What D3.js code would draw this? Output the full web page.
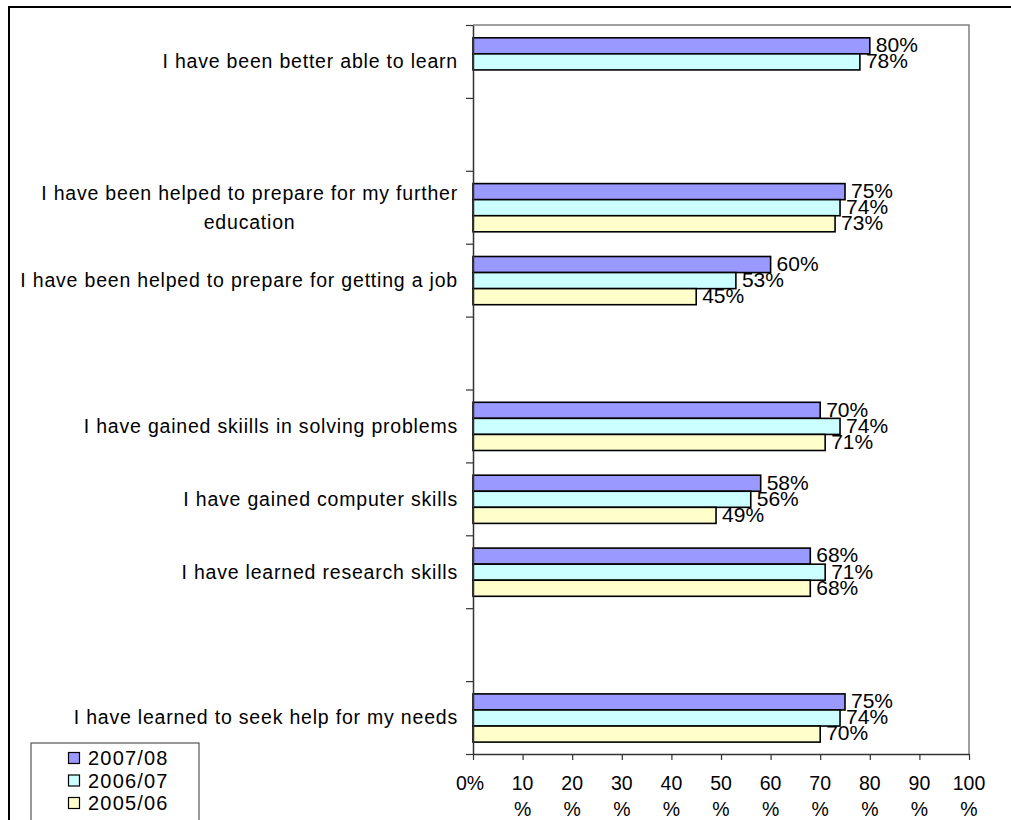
<!DOCTYPE html>
<html><head><meta charset="utf-8">
<script src="https://cdn.jsdelivr.net/npm/d3@7"></script>
<style>body{margin:0;background:#fff}svg{display:block}text{font-family:"Liberation Sans",Arial,sans-serif;fill:#000}</style>
</head><body><div id="chart"></div>
<script>
const categories = [
  ["I have been better able to learn"],
  [],
  ["I have been helped to prepare for my further", "education"],
  ["I have been helped to prepare for getting a job"],
  [],
  ["I have gained skiills in solving problems"],
  ["I have gained computer skills"],
  ["I have learned research skills"],
  [],
  ["I have learned to seek help for my needs"]
];
const seriesNames = ["2007/08", "2006/07", "2005/06"];
const v2007 = [80, null, 75, 60, null, 70, 58, 68, null, 75];
const v2006 = [78, null, 74, 53, null, 74, 56, 71, null, 74];
const v2005 = [null, null, 73, 45, null, 71, 49, 68, null, 70];
const colors = ["#9999FF", "#CCFFFF", "#FFFFCC"];
const xTicks = [0, 10, 20, 30, 40, 50, 60, 70, 80, 90, 100];
const xTickLines = [["0%"], ["10", "%"], ["20", "%"], ["30", "%"], ["40", "%"], ["50", "%"], ["60", "%"], ["70", "%"], ["80", "%"], ["90", "%"], ["100", "%"]];

(function () {
const W = 1011, H = 820;
const svg = d3.select("#chart").append("svg").attr("width", W).attr("height", H);

// outer chart border
svg.append("rect").attr("x", 9).attr("y", 7).attr("width", 1100).attr("height", 900)
  .attr("fill", "none").attr("stroke", "#000").attr("stroke-width", 2);

const pL = 473, pR = 969, pT = 25, pB = 754;
const x = d3.scaleLinear().domain([0, 100]).range([pL, pR]);
const yIdx = d3.scaleLinear().domain([0, categories.length]).range([pT, pB]);
const y = d3.scaleBand().domain(d3.range(categories.length)).range([pT, pB]).padding(0);
const ySub = d3.scaleBand().domain(d3.range(3)).range([12.8, 61]).padding(0);

// plot area border (top/right)
svg.append("path").attr("d", `M${pL},${pT}H${pR}V${pB}`)
  .attr("fill", "none").attr("stroke", "#808080").attr("stroke-width", 1.5);

const series = [v2007, v2006, v2005];
const g = svg.append("g");
series.forEach((vals, s) => {
  const data = vals.map((v, i) => ({v, i})).filter(d => d.v != null);
  g.selectAll(null).data(data).enter().append("rect")
    .attr("x", x(0))
    .attr("y", d => y(d.i) + ySub(s))
    .attr("width", d => x(d.v) - x(0))
    .attr("height", ySub.bandwidth())
    .attr("fill", colors[s]).attr("stroke", "#000").attr("stroke-width", 1.6);
});
series.forEach((vals, s) => {
  const data = vals.map((v, i) => ({v, i})).filter(d => d.v != null);
  g.selectAll(null).data(data).enter().append("text")
    .attr("x", d => x(d.v) + 6)
    .attr("y", d => y(d.i) + ySub(s) + ySub.bandwidth() / 2 - 1)
    .attr("dy", "0.35em")
    .style("font-size", "21px")
    .text(d => d.v + "%");
});

// y axis
const yAxis = svg.append("g").attr("transform", `translate(${pL},0)`)
  .call(d3.axisLeft(yIdx).tickValues(d3.range(categories.length + 1)).tickFormat("").tickSize(7).tickSizeOuter(0));
yAxis.select(".domain").attr("stroke", "#333").attr("stroke-width", 1.5);
yAxis.selectAll(".tick line").attr("stroke", "#333").attr("stroke-width", 1.2);

// category labels (right-aligned block, lines centred within it)
categories.forEach((lines, i) => {
  if (!lines.length) return;
  const cy = y(i) + y.bandwidth() / 2;
  const n = lines.length;
  const ts = lines.map((ln, k) => svg.append("text")
    .style("font-size", "19.5px").style("letter-spacing", "0.8px")
    .attr("text-anchor", "middle")
    .attr("y", cy + (k - (n - 1) / 2) * 29).attr("dy", "0.35em").text(ln));
  const maxW = d3.max(ts, t => t.node().getComputedTextLength());
  ts.forEach(t => t.attr("x", 458 - maxW / 2));
});

// x axis
const xAxis = svg.append("g").attr("transform", `translate(0,${pB})`)
  .call(d3.axisBottom(x).tickValues(xTicks).tickFormat("").tickSize(6).tickSizeOuter(0));
xAxis.select(".domain").attr("stroke", "#333").attr("stroke-width", 1.5);
xAxis.selectAll(".tick line").attr("stroke", "#333").attr("stroke-width", 1.2);
xTicks.forEach((v, i) => {
  const lines = xTickLines[i];
  lines.forEach((ln, k) => {
    svg.append("text").attr("x", x(v) + (lines.length === 1 ? -3 : 0)).attr("y", 790 + k * 26)
      .attr("text-anchor", "middle").style("font-size", "19.5px").text(ln);
  });
});

// legend
svg.append("rect").attr("x", 31).attr("y", 743).attr("width", 168).attr("height", 100)
  .attr("fill", "#fff").attr("stroke", "#555").attr("stroke-width", 1.2);
seriesNames.forEach((nm, i) => {
  const cy = 758 + i * 22.5;
  svg.append("rect").attr("x", 68.5).attr("y", cy - 5.5).attr("width", 11).attr("height", 11)
    .attr("fill", colors[i]).attr("stroke", "#000").attr("stroke-width", 1.2);
  svg.append("text").attr("x", 88).attr("y", cy).attr("dy", "0.35em")
    .style("font-size", "20px").style("letter-spacing", "1.2px").text(nm);
});
})();
</script></body></html>
